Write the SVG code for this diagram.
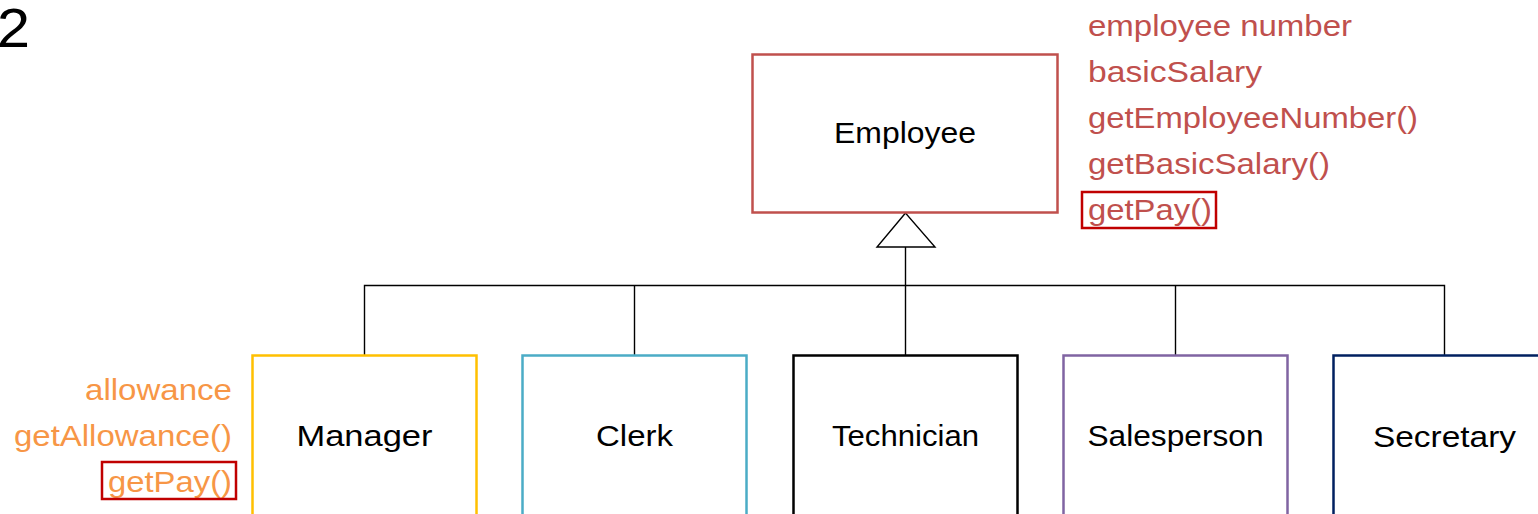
<svg xmlns="http://www.w3.org/2000/svg" width="1538" height="514" viewBox="0 0 1538 514">
<style>
text{font-family:"Liberation Sans",Arial,sans-serif;}
.lbl{font-size:29px;fill:#000;text-anchor:middle;}
.red{font-size:29px;fill:#C0504D;}
.org{font-size:29px;fill:#F79646;text-anchor:end;}
.box{fill:#fff;stroke-width:2.5;}
.hl{fill:none;stroke:#C00000;stroke-width:2.5;}
.conn{fill:none;stroke:#000;stroke-width:1.4;}
</style>
<rect width="1538" height="514" fill="#fff"/>
<text x="-3" y="47" style="font-size:55px;fill:#000" textLength="33" lengthAdjust="spacingAndGlyphs">2</text>

<g id="connectors">
<polyline class="conn" points="364.5,355 364.5,285.5 1444.5,285.5 1444.5,355"/>
<line class="conn" x1="634.5" y1="285.5" x2="634.5" y2="355"/>
<line class="conn" x1="905.5" y1="247" x2="905.5" y2="355"/>
<line class="conn" x1="1175.5" y1="285.5" x2="1175.5" y2="355"/>
<polygon points="905.5,213 877,247 935,247" fill="#fff" stroke="#000" stroke-width="1.4"/>
</g>

<g id="employee">
<rect class="box" x="752.5" y="54.5" width="305" height="158" stroke="#C0504D"/>
<text class="lbl" x="905" y="143" textLength="142" lengthAdjust="spacingAndGlyphs">Employee</text>
</g>
<g id="employee-members">
<text class="red" x="1088" y="36" textLength="264" lengthAdjust="spacingAndGlyphs">employee number</text>
<text class="red" x="1088" y="82" textLength="174" lengthAdjust="spacingAndGlyphs">basicSalary</text>
<text class="red" x="1088" y="128" textLength="330" lengthAdjust="spacingAndGlyphs">getEmployeeNumber()</text>
<text class="red" x="1088" y="174" textLength="242" lengthAdjust="spacingAndGlyphs">getBasicSalary()</text>
<text class="red" x="1088" y="220" textLength="124" lengthAdjust="spacingAndGlyphs">getPay()</text>
<rect class="hl" x="1082" y="192" width="134" height="36"/>
</g>

<g id="manager">
<rect class="box" x="252.5" y="355.5" width="224" height="170" stroke="#FFC000"/>
<text class="lbl" x="364.5" y="446" textLength="136" lengthAdjust="spacingAndGlyphs">Manager</text>
</g>
<g id="manager-members">
<text class="org" x="232" y="400" textLength="147" lengthAdjust="spacingAndGlyphs">allowance</text>
<text class="org" x="232" y="446" textLength="218" lengthAdjust="spacingAndGlyphs">getAllowance()</text>
<text class="org" x="232" y="492" textLength="124" lengthAdjust="spacingAndGlyphs">getPay()</text>
<rect class="hl" x="102" y="462" width="134" height="37"/>
</g>

<g id="clerk">
<rect class="box" x="522.5" y="355.5" width="224" height="170" stroke="#4BACC6"/>
<text class="lbl" x="634.5" y="446" textLength="77" lengthAdjust="spacingAndGlyphs">Clerk</text>
</g>
<g id="technician">
<rect class="box" x="793.5" y="355.5" width="224" height="170" stroke="#000" stroke-width="3"/>
<text class="lbl" x="905.5" y="446" textLength="147" lengthAdjust="spacingAndGlyphs">Technician</text>
</g>
<g id="salesperson">
<rect class="box" x="1063.5" y="355.5" width="224" height="170" stroke="#8064A2"/>
<text class="lbl" x="1175.5" y="446" textLength="176" lengthAdjust="spacingAndGlyphs">Salesperson</text>
</g>
<g id="secretary">
<rect class="box" x="1333.5" y="355.5" width="224" height="170" stroke="#002060"/>
<text class="lbl" x="1444.5" y="447" textLength="143" lengthAdjust="spacingAndGlyphs">Secretary</text>
</g>
</svg>
